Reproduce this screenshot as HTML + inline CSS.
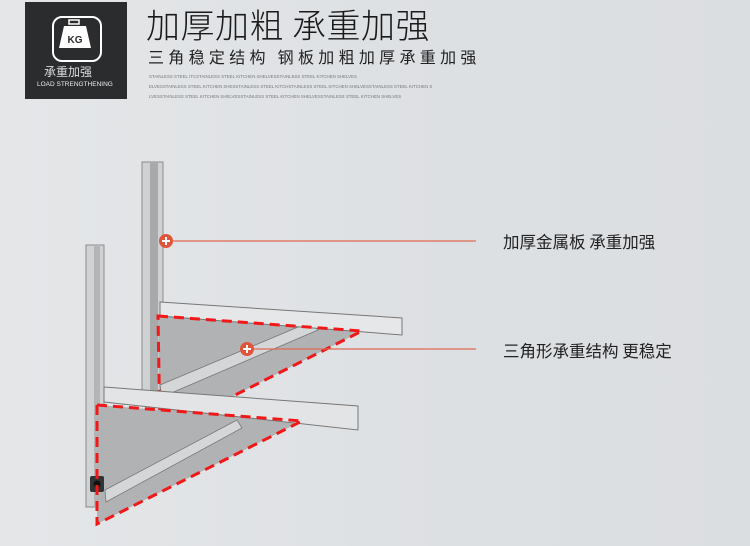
<!DOCTYPE html>
<html><head><meta charset="utf-8"><style>
body{margin:0;width:750px;height:546px;overflow:hidden;background:linear-gradient(90deg,#e4e6e8,#dde0e3 60%,#dbdee1);font-family:"Liberation Sans","Noto Sans CJK SC",sans-serif;position:relative}
.t{position:absolute;white-space:nowrap}
</style></head><body>
<div style="position:absolute;left:25px;top:2px;width:102px;height:97px;background:#2b2c2e"></div>
<div style="position:absolute;left:52px;top:16px;width:46px;height:42px;border:2px solid #fff;border-radius:10px"></div>
<svg style="position:absolute;left:0;top:0" width="750" height="546">
<path d="M69 20 h10 v4 h-10z" fill="none" stroke="#fff" stroke-width="1.5"/>
<path d="M64 26 h22 l5 22 h-32z" fill="#fff"/>
<text x="75" y="43" font-family="Liberation Sans" font-size="10" font-weight="bold" fill="#2b2c2e" text-anchor="middle">KG</text>
<!-- back bracket -->
<rect x="142" y="162" width="21" height="232" fill="#cfd1d3" stroke="#8a8c8e"/>
<rect x="150" y="162" width="8" height="232" fill="#a7a9ab"/>
<polygon points="158,316 362,331 160,433" fill="#b0b2b4"/>
<polygon points="160,385 310,322 318,330 162,397" fill="#d4d6d8" stroke="#777" stroke-width="0.8"/>
<polygon points="160,302 402,318 402,335 160,316" fill="#e6e7e8" stroke="#777"/>
<polygon points="158,316 362,331 160,433" fill="none" stroke="#f01818" stroke-width="3" stroke-dasharray="10,6"/>
<!-- front bracket -->
<rect x="86" y="245" width="18" height="262" fill="#d0d2d4" stroke="#8a8c8e"/>
<rect x="94" y="245" width="6" height="262" fill="#b3b5b7"/>
<polygon points="97,405 302,421 97,524" fill="#b0b2b4"/>
<polygon points="105,490 237,420 242,428 106,502" fill="#d4d6d8" stroke="#777" stroke-width="0.8"/>
<polygon points="104,387 358,406 358,430 104,402" fill="#e3e4e5" stroke="#777"/>
<rect x="90" y="476" width="14" height="16" fill="#333" rx="2"/>
<circle cx="97" cy="484" r="3.5" fill="#111"/>
<polygon points="97,405 302,421 97,524" fill="none" stroke="#f01818" stroke-width="3" stroke-dasharray="10,6"/>
<!-- markers -->
<line x1="166" y1="241" x2="476" y2="241" stroke="#e06a52" stroke-width="1.2"/>
<line x1="247" y1="349" x2="476" y2="349" stroke="#e06a52" stroke-width="1.2"/>
<circle cx="166" cy="241" r="7" fill="#e0553a"/><path d="M162 241h8M166 237v8" stroke="#fff" stroke-width="2"/>
<circle cx="247" cy="349" r="7" fill="#e0553a"/><path d="M243 349h8M247 345v8" stroke="#fff" stroke-width="2"/>
</svg>
<div class="t" style="left:44px;top:63px;font-size:12px;color:#ddd;font-family:'Noto Sans CJK SC',sans-serif">承重加强</div>
<div class="t" style="left:37px;top:81px;font-size:6.5px;color:#eee">LOAD STRENGTHENING</div>
<div class="t" style="left:146px;top:3px;font-size:34px;line-height:42px;letter-spacing:0.5px;color:#1a1a1a;font-family:'Noto Sans CJK SC',sans-serif;font-weight:300">加厚加粗 承重加强</div>
<div class="t" style="left:148px;top:46px;font-size:16px;line-height:20px;letter-spacing:4.3px;color:#222;font-family:'Noto Sans CJK SC',sans-serif">三角稳定结构 钢板加粗加厚承重加强</div>
<div class="t" style="left:149px;top:72px;font-size:4.4px;line-height:10px;color:#777">STAINLESS STEEL ITCSTAINLESS STEEL KITCHEN SHELVESSTAINLESS STEEL KITCHEN SHELVES<br>ELVESSTAINLESS STEEL KITCHEN SHESSTAINLESS STEEL KITCHSTAINLESS STEEL KITCHEN SHELVESSTAINLESS STEEL KITCHEN S<br>LVESSTAINLESS STEEL KITCHEN SHELVESSTAINLESS STEEL KITCHEN SHELVESSTAINLESS STEEL KITCHEN SHELVES</div>
<div class="t" style="left:503px;top:229px;font-size:16.5px;line-height:24px;color:#222;font-family:'Noto Sans CJK SC',sans-serif">加厚金属板 承重加强</div>
<div class="t" style="left:503px;top:338px;font-size:16.5px;line-height:24px;color:#222;font-family:'Noto Sans CJK SC',sans-serif">三角形承重结构 更稳定</div>
</body></html>
